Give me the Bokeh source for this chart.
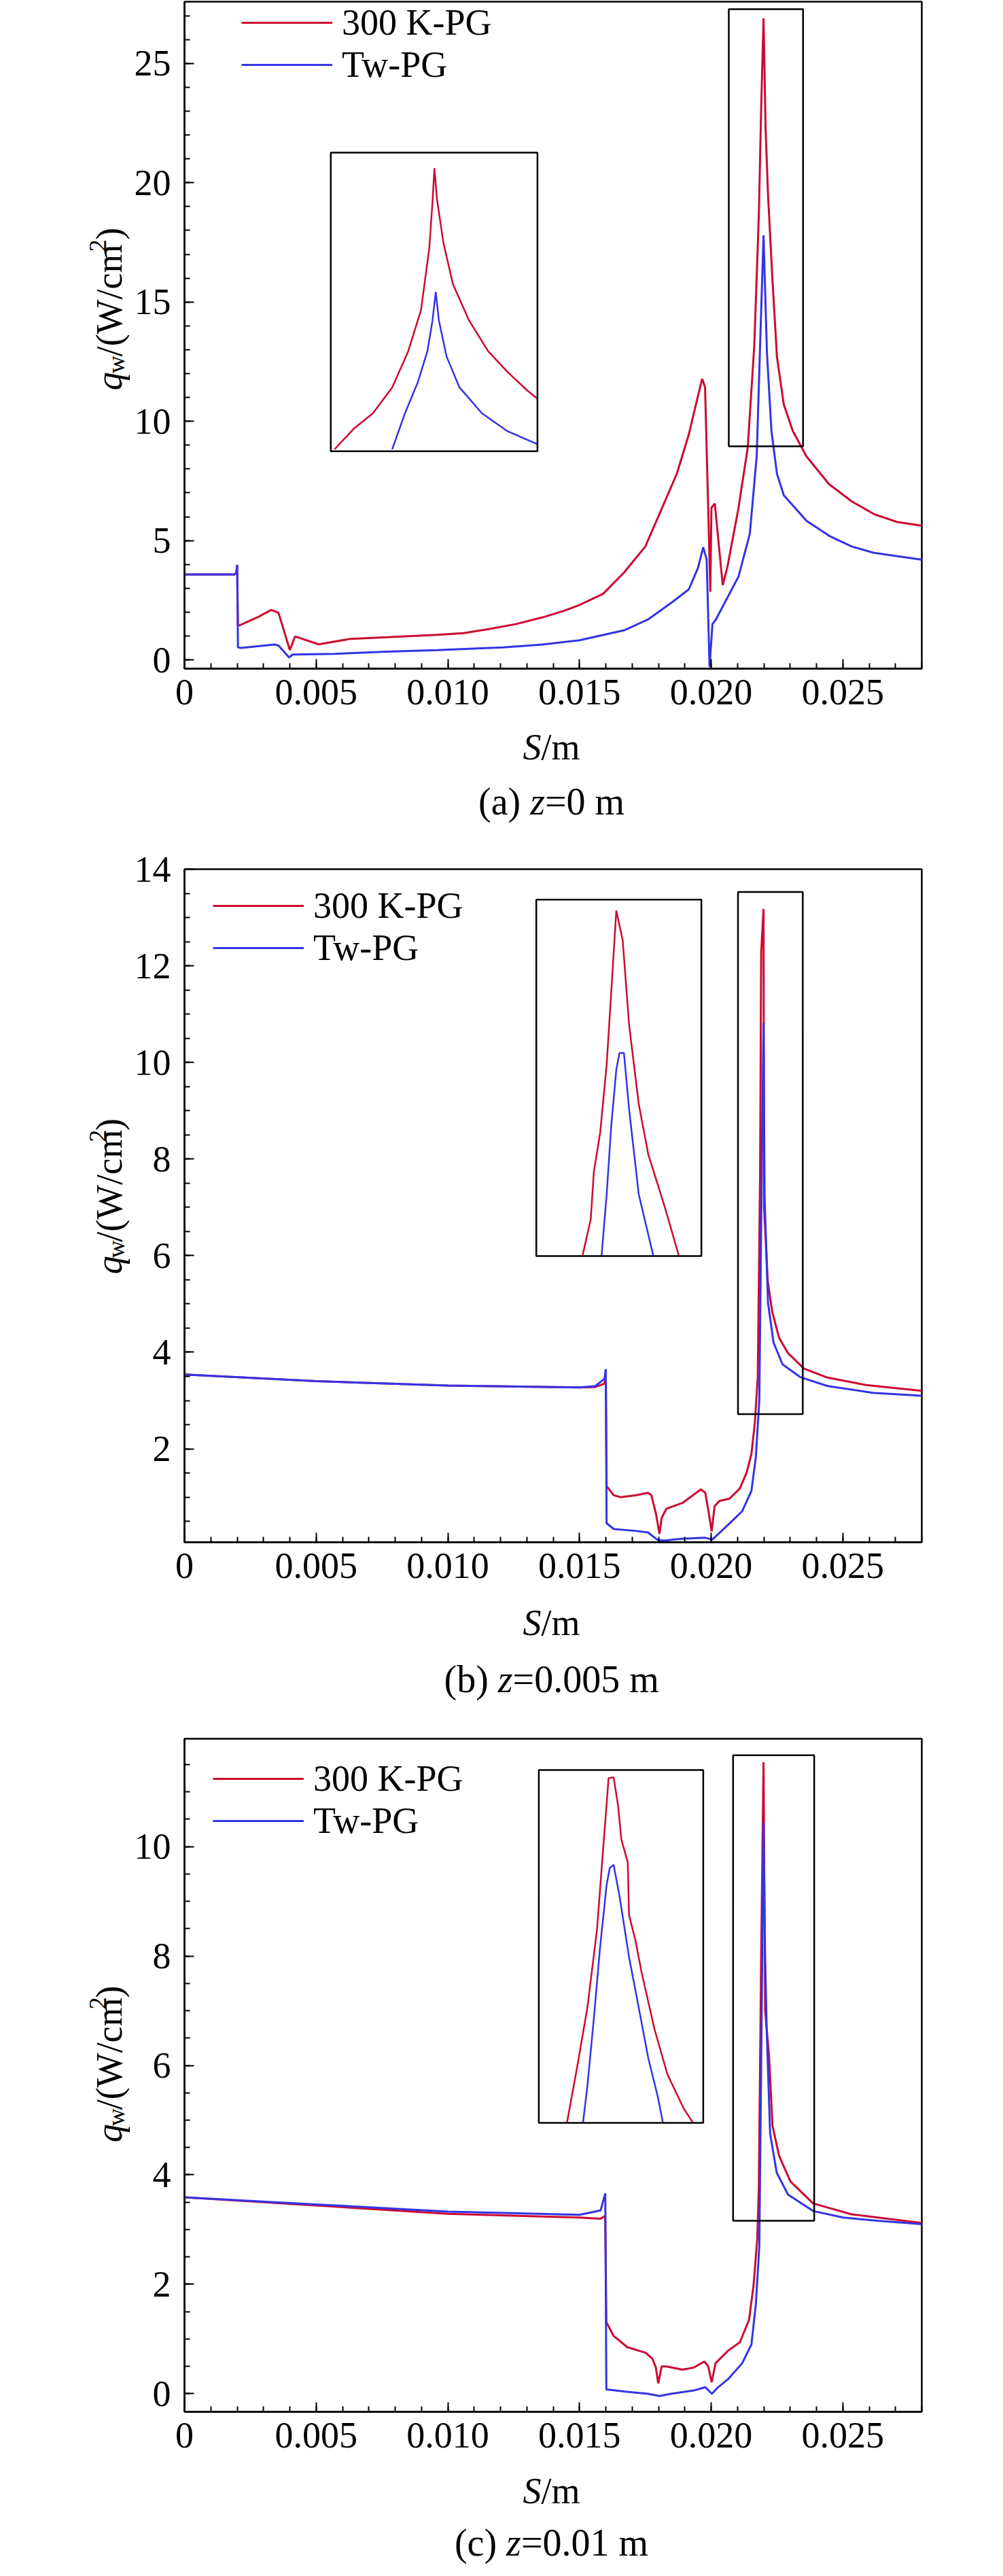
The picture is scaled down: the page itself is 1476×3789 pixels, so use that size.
import numpy as np
from bokeh.plotting import figure
from bokeh.layouts import column, row
from bokeh.models import (Range1d, Legend, LegendItem,
                          SingleIntervalTicker, PrintfTickFormatter)
from bokeh.core.properties import value
from bokeh.embed import file_html
from bokeh.resources import INLINE

RED = "#cc0a32"
BLUE = "#3434e6"
FONT = "Liberation Serif"
X_RANGE = (0.0, 0.028)
FRAME_W = 1085
YLAB_W = 194
PAGE_W = 1460

# ---------------- (a) z = 0 m ----------------
s_a_red = [0, 0.0019, 0.00197, 0.0020, 0.00203, 0.0021, 0.0028, 0.0033, 0.00357, 0.0040,
           0.0042, 0.0051, 0.0063, 0.0077, 0.0096, 0.0106, 0.0116, 0.0126, 0.0136, 0.0144,
           0.0150, 0.0159, 0.0167, 0.0175, 0.0180, 0.0187, 0.01915, 0.0195, 0.01966, 0.01977,
           0.01997, 0.02001, 0.02014, 0.02044, 0.02061, 0.02104, 0.02139, 0.02164, 0.02181, 0.0219,
           0.02199, 0.02207, 0.02216, 0.02233, 0.0225, 0.02276, 0.0231, 0.02362, 0.02448, 0.02534,
           0.0262, 0.02706, 0.028]
q_a_red = [3.58, 3.58, 3.65, 3.98, 1.45, 1.45, 1.8, 2.09, 1.97, 0.41,
           0.98, 0.65, 0.88, 0.95, 1.05, 1.12, 1.3, 1.5, 1.78, 2.05,
           2.3, 2.77, 3.67, 4.75, 6.02, 7.81, 9.44, 11.06, 11.78, 11.42,
           2.85, 6.37, 6.55, 3.13, 3.85, 6.37, 8.9, 13.2, 18.6, 23.1,
           26.9, 22.2, 19.5, 15.9, 12.7, 10.7, 9.6, 8.53, 7.36, 6.64,
           6.1, 5.78, 5.62]
s_a_blue = [0, 0.0019, 0.00197, 0.0020, 0.00203, 0.00215, 0.00343, 0.00357, 0.00397, 0.00411,
            0.0057, 0.0077, 0.0096, 0.0116, 0.0121, 0.0136, 0.0150, 0.0167, 0.0176, 0.0185,
            0.01915, 0.0195, 0.0197, 0.01983, 0.01994, 0.02005, 0.02018, 0.02052, 0.02104, 0.02147,
            0.02173, 0.02186, 0.02199, 0.02212, 0.02229, 0.0225, 0.02276, 0.02362, 0.02448, 0.02534,
            0.0262, 0.028]
q_a_blue = [3.58, 3.58, 3.65, 3.98, 0.52, 0.5, 0.64, 0.6, 0.1, 0.22,
            0.25, 0.34, 0.41, 0.5, 0.52, 0.64, 0.82, 1.24, 1.69, 2.4,
            2.95, 3.85, 4.72, 4.2, -0.3, 1.5, 1.69, 2.4, 3.49, 5.29,
            8.53, 13.2, 17.8, 12.86, 9.6, 7.8, 6.9, 5.83, 5.2, 4.75,
            4.48, 4.2]
# zoomed window (small box) and where the enlarged view sits
box_a = (0.02067, 0.02349, 8.95, 27.28)
inset_a = (0.005556, 0.013404, 8.74, 21.26)
ins_a_s_red = [0.020722, 0.020984, 0.021246, 0.021508, 0.021726, 0.021901, 0.022014, 0.022058,
               0.022084, 0.022119, 0.022207, 0.022337, 0.022556, 0.022818, 0.02308, 0.023342, 0.02349]
ins_a_q_red = [9.08, 10.34, 11.29, 12.87, 15.09, 17.62, 21.42, 24.27,
               26.33, 24.43, 21.74, 19.21, 16.99, 15.09, 13.83, 12.72, 12.18]
ins_a_s_blue = [0.021508, 0.021683, 0.021857, 0.021988, 0.022058, 0.022102, 0.022145, 0.02225,
                0.022425, 0.022731, 0.02308, 0.02349]
ins_a_q_blue = [9.08, 11.29, 13.19, 15.09, 16.99, 18.73, 16.99, 14.77,
                12.88, 11.29, 10.19, 9.39]

# ---------------- (b) z = 0.005 m ----------------
s_b_red = [0, 0.005, 0.010, 0.015, 0.0156, 0.01595, 0.0160, 0.01603, 0.0163, 0.01655,
           0.01716, 0.0176, 0.01773, 0.0179, 0.01804, 0.01812, 0.0183, 0.01891, 0.01961, 0.01978,
           0.01991, 0.02002, 0.02013, 0.02031, 0.0207, 0.02109, 0.02135, 0.02153, 0.02166, 0.02177,
           0.02186, 0.0219, 0.02199, 0.02201, 0.02215, 0.02232, 0.02258, 0.02292, 0.02353, 0.02439,
           0.02589, 0.028]
q_b_red = [3.54, 3.40, 3.31, 3.27, 3.28, 3.35, 3.5, 1.23, 1.04, 1.0,
           1.04, 1.09, 1.04, 0.67, 0.24, 0.57, 0.76, 0.88, 1.16, 1.09,
           0.67, 0.29, 0.81, 0.92, 0.97, 1.18, 1.51, 1.89, 2.54, 3.48,
           7.74, 12.27, 13.18, 7.0, 5.47, 4.84, 4.3, 3.98, 3.66, 3.48,
           3.32, 3.2]
s_b_blue = [0, 0.005, 0.010, 0.015, 0.0156, 0.01595, 0.0160, 0.01603, 0.0163, 0.01716,
            0.0176, 0.01795, 0.01821, 0.01891, 0.01978, 0.02004, 0.02065, 0.02118, 0.02153, 0.0217,
            0.02183, 0.02194, 0.02199, 0.02203, 0.02216, 0.02237, 0.02271, 0.0234, 0.02443, 0.02615,
            0.028]
q_b_blue = [3.54, 3.40, 3.31, 3.27, 3.30, 3.45, 3.65, 0.46, 0.34, 0.30,
            0.27, 0.12, 0.10, 0.14, 0.16, 0.12, 0.43, 0.71, 1.13, 1.84,
            3.01, 8.65, 10.82, 7.2, 5.02, 4.2, 3.75, 3.48, 3.3, 3.16,
            3.1]
box_b = (0.02102, 0.02348, 2.72, 13.53)
inset_b = (0.01336, 0.01963, 5.99, 13.37)
ins_b_s_red = [0.021707, 0.021831, 0.021878, 0.021973, 0.022069, 0.022164, 0.022212, 0.022307,
               0.022403, 0.022546, 0.022689, 0.022927, 0.023146]
ins_b_q_red = [2.72, 3.83, 5.28, 6.48, 8.54, 11.61, 13.2, 12.3, 9.73, 7.34, 5.8, 4.26, 2.72]
ins_b_s_blue = [0.021992, 0.022069, 0.022136, 0.022212, 0.02226, 0.022326, 0.022403, 0.022546,
                0.022765]
ins_b_q_blue = [2.72, 4.6, 6.65, 8.37, 8.88, 8.88, 7.17, 4.6, 2.72]

# ---------------- (c) z = 0.01 m ----------------
s_c_red = [0, 0.005, 0.010, 0.015, 0.0158, 0.01598, 0.01602, 0.01629, 0.01682, 0.01751,
           0.01777, 0.0179, 0.01799, 0.01812, 0.0183, 0.01891, 0.01935, 0.01974, 0.01989, 0.02002,
           0.02017, 0.02065, 0.02109, 0.02144, 0.02161, 0.02175, 0.02181, 0.0219, 0.02199, 0.02205,
           0.0222, 0.02233, 0.02258, 0.02301, 0.02387, 0.02533, 0.028]
q_c_red = [3.59, 3.44, 3.29, 3.22, 3.2, 3.25, 1.31, 1.06, 0.85, 0.75,
           0.64, 0.48, 0.19, 0.5, 0.5, 0.44, 0.48, 0.59, 0.5, 0.21,
           0.56, 0.79, 0.94, 1.35, 1.98, 2.82, 3.74, 8.0, 11.54, 7.0,
           6.17, 4.9, 4.35, 3.88, 3.48, 3.28, 3.12]
s_c_blue = [0, 0.005, 0.010, 0.015, 0.0158, 0.01598, 0.01602, 0.01673, 0.0176, 0.01804,
            0.01847, 0.01935, 0.01978, 0.02003, 0.02022, 0.02065, 0.02118, 0.02153, 0.0217, 0.02183,
            0.0219, 0.02199, 0.02205, 0.02211, 0.02224, 0.02249, 0.02292, 0.02387, 0.02502, 0.02633,
            0.028]
q_c_blue = [3.59, 3.46, 3.33, 3.27, 3.35, 3.66, 0.08, 0.04, 0.0, -0.04,
            0.0, 0.06, 0.12, 0.0, 0.1, 0.27, 0.56, 0.9, 1.65, 2.7,
            6.0, 10.45, 8.0, 6.65, 4.75, 4.04, 3.64, 3.34, 3.22, 3.16,
            3.1]
box_c = (0.020834, 0.023914, 3.16, 11.67)
inset_c = (0.013456, 0.0197, 4.95, 11.4)
ins_c_s_red = [0.021361, 0.021565, 0.021745, 0.021925, 0.02202, 0.022105, 0.02214, 0.022236,
               0.02232, 0.02238, 0.0225, 0.022524, 0.022644, 0.022764, 0.023003, 0.023243,
               0.023543, 0.023722]
ins_c_q_red = [3.16, 4.6, 5.95, 7.83, 9.45, 10.86, 11.47, 11.49, 10.8, 9.99, 9.45, 8.17,
               7.56, 6.76, 5.41, 4.33, 3.52, 3.16]
ins_c_s_blue = [0.021661, 0.021745, 0.021865, 0.021984, 0.022105, 0.022164, 0.022236, 0.022344,
                0.022524, 0.022704, 0.022883, 0.023063, 0.023159]
ins_c_q_blue = [3.16, 4.06, 5.68, 7.43, 8.91, 9.31, 9.38, 8.64, 7.16, 5.95, 4.73, 3.79, 3.16]


def text_fig(w, h):
    # blank figure whose data units are pixels, used for titles and captions
    f = figure(width=w, height=h, x_range=Range1d(0, w), y_range=Range1d(0, h),
               x_axis_type=None, y_axis_type=None, min_border=0,
               toolbar_location=None, output_backend="svg", title=None,
               outline_line_color=None, background_fill_color="white",
               border_fill_color="white")
    f.grid.visible = False
    return f


def put(f, x, y, text, size=54, style="normal", angle=0.0):
    # x from the left edge, y from the top edge, in pixels
    f.text(x=[x], y=[f.height - y], text=[text], angle=angle,
           text_align="left", text_baseline="middle",
           text_font=value(FONT), text_font_size=f"{size}px",
           text_font_style=style, text_color="black")


def panel(reds, blues, y_range, y_step, y_minor, frame_h, top, bottom,
          box, inset, ins_red, ins_blue, leg_x, leg_y):
    p = figure(frame_width=FRAME_W, frame_height=frame_h,
               x_range=Range1d(*X_RANGE), y_range=Range1d(*y_range),
               min_border_left=76, min_border_right=105,
               min_border_top=top, min_border_bottom=bottom,
               toolbar_location=None, output_backend="svg", title=None,
               background_fill_color="white", border_fill_color="white")
    p.grid.visible = False
    p.outline_line_color = "black"
    p.outline_line_width = 2.5
    p.outline_line_alpha = 1.0

    p.xaxis.ticker = SingleIntervalTicker(interval=0.005, num_minor_ticks=5)
    p.xaxis.formatter = PrintfTickFormatter(format="%.3f")
    p.xaxis.major_label_overrides = {0: "0"}
    p.yaxis.ticker = SingleIntervalTicker(interval=y_step, num_minor_ticks=y_minor)
    for ax in (p.xaxis, p.yaxis):
        ax.axis_line_width = 2.5
        ax.major_tick_in = 14
        ax.major_tick_out = 0
        ax.minor_tick_in = 8
        ax.minor_tick_out = 0
        ax.major_tick_line_width = 2
        ax.minor_tick_line_width = 2
        ax.major_label_text_font = FONT
        ax.major_label_text_font_size = "54px"
        ax.major_label_text_color = "black"
    p.xaxis.major_label_standoff = 16
    p.yaxis.major_label_standoff = 20

    r_red = p.line(reds[0], reds[1], line_color=RED, line_width=3)
    r_blue = p.line(blues[0], blues[1], line_color=BLUE, line_width=3)

    # small box around the peak, and its enlarged view
    p.quad(left=box[0], right=box[1], bottom=box[2], top=box[3],
           fill_alpha=0, line_color="black", line_width=2.5)
    kx = (box[1] - box[0]) / (inset[1] - inset[0])
    ky = (box[3] - box[2]) / (inset[3] - inset[2])
    xs = box[0] - kx * (inset[0] - X_RANGE[0])
    ys = box[2] - ky * (inset[2] - y_range[0])
    p.extra_x_ranges = {"ins": Range1d(xs, xs + kx * (X_RANGE[1] - X_RANGE[0]))}
    p.extra_y_ranges = {"ins": Range1d(ys, ys + ky * (y_range[1] - y_range[0]))}
    p.line(ins_red[0], ins_red[1], line_color=RED, line_width=2.5,
           x_range_name="ins", y_range_name="ins")
    p.line(ins_blue[0], ins_blue[1], line_color=BLUE, line_width=2.5,
           x_range_name="ins", y_range_name="ins")
    p.quad(left=box[0], right=box[1], bottom=box[2], top=box[3],
           fill_alpha=0, line_color="black", line_width=2.5,
           x_range_name="ins", y_range_name="ins")

    legend = Legend(items=[LegendItem(label="300 K-PG", renderers=[r_red]),
                           LegendItem(label="Tw-PG", renderers=[r_blue])],
                    location=(leg_x, leg_y), glyph_width=134, glyph_height=58,
                    label_height=58, label_standoff=14, spacing=0, padding=0,
                    margin=0, border_line_alpha=0, background_fill_alpha=0,
                    label_text_font=FONT, label_text_font_size="54px",
                    label_text_color="black")
    p.add_layout(legend)

    # y-axis title q_w/(W/cm^2), rotated, in its own strip to the left
    h = top + frame_h + bottom
    yl = text_fig(YLAB_W, h)
    c = top + frame_h / 2 + 127
    rot = np.pi / 2
    put(yl, 160, c, "q", style="italic", angle=rot)
    put(yl, 170, c - 27, "w", size=36, angle=rot)
    put(yl, 160, c - 54, "/(W/cm", angle=rot)
    put(yl, 143, c - 221, "2", size=36, angle=rot)
    put(yl, 160, c - 240, ")", angle=rot)
    return row(yl, p, spacing=0)


def caption(h, y_title, y_cap, parts, xs):
    f = text_fig(PAGE_W, h)
    put(f, 769, y_title, "S", style="italic")
    put(f, 796, y_title, "/m")
    put(f, xs[0], y_cap, parts[0], size=56)
    put(f, xs[1], y_cap, parts[1], size=56, style="italic")
    put(f, xs[2], y_cap, parts[2], size=56)
    return f


pa = panel((s_a_red, q_a_red), (s_a_blue, q_a_blue), (-0.37, 27.59), 5, 5, 981, 2, 80,
           box_a, inset_a, (ins_a_s_red, ins_a_q_red), (ins_a_s_blue, ins_a_q_blue),
           84, 857)
ca = caption(160, 35, 115, ("(a)", "z", "=0 m"), (703.5, 779.7, 801.5))
pb = panel((s_b_red, q_b_red), (s_b_blue, q_b_blue), (0.066, 14.0), 2, 4, 990, 55, 80,
           box_b, inset_b, (ins_b_s_red, ins_b_q_red), (ins_b_s_blue, ins_b_q_blue),
           42, 843)
cb = caption(160, 38, 121, ("(b)", "z", "=0.005 m"), (653, 732.3, 754.1))
pc = panel((s_c_red, q_c_red), (s_c_blue, q_c_blue), (-0.33, 11.97), 2, 4, 990, 49, 80,
           box_c, inset_c, (ins_c_s_red, ins_c_q_red), (ins_c_s_blue, ins_c_q_blue),
           42, 838)
cc = caption(146, 36, 112, ("(c)", "z", "=0.01 m"), (668.4, 744.6, 766.4))

layout = column(pa, ca, pb, cb, pc, cc, spacing=0)
open("out.html", "w").write(file_html(layout, INLINE))
